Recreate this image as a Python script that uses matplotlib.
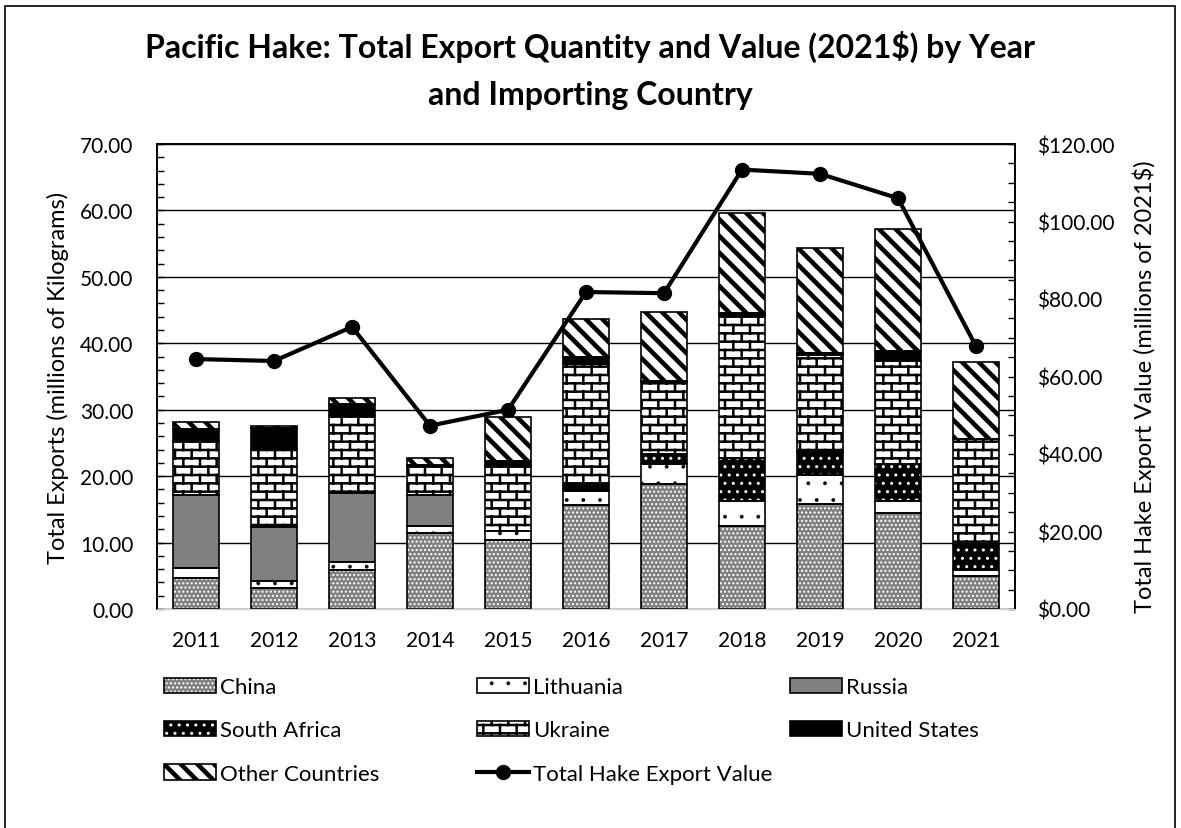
import numpy as np
import matplotlib
matplotlib.use('Agg')
import matplotlib.pyplot as plt
from matplotlib import hatch as mhatch
from matplotlib.path import Path
from matplotlib.patches import Patch, Rectangle
from matplotlib.lines import Line2D
from matplotlib.ticker import MultipleLocator, FormatStrFormatter

# Data (millions of kg, value in millions of 2021$)
years = ['2011', '2012', '2013', '2014', '2015', '2016', '2017', '2018', '2019', '2020', '2021']
china = [4.7, 3.2, 5.9, 11.5, 10.4, 15.6, 18.8, 12.5, 15.8, 14.5, 4.9]
lithuania = [1.4, 1.0, 1.2, 1.0, 1.3, 2.1, 3.0, 3.8, 4.4, 1.8, 0.9]
russia = [11.1, 8.1, 10.3, 4.6, 0.0, 0.0, 0.0, 0.0, 0.0, 0.0, 0.0]
south_africa = [0.0, 0.0, 0.0, 0.0, 0.0, 1.0, 1.5, 6.5, 3.4, 5.5, 4.0]
ukraine = [8.1, 11.8, 11.6, 4.4, 9.9, 18.2, 10.8, 21.4, 14.6, 15.6, 15.8]
united_states = [1.8, 3.1, 1.9, 0.2, 0.7, 1.0, 0.2, 0.3, 0.3, 1.5, 0.0]
other = [1.1, 0.4, 0.9, 1.1, 6.6, 5.8, 10.4, 15.1, 15.8, 18.3, 11.6]
total_value = [64.5, 64.0, 72.8, 47.3, 51.4, 81.8, 81.5, 113.4, 112.3, 106.0, 67.8]


# brick hatch ('B') for Ukraine, like the Excel pattern
class BrickHatch(mhatch.HatchPatternBase):
    def __init__(self, hatch, density):
        n = hatch.count('B') * density
        pts = []
        if n:
            per_row = max(n // 2, 1)
            for i in range(n):
                y0, y1 = i / n, (i + 1) / n
                pts += [(0.0, y0), (1.0, y0)]
                if i % 2 == 0:
                    xs = [k / per_row for k in range(per_row + 1)]
                else:
                    xs = [(k + 0.5) / per_row for k in range(per_row)]
                for xv in xs:
                    pts += [(xv, y0), (xv, y1)]
            pts += [(0.0, 1.0), (1.0, 1.0)]
        self.pts = pts
        self.num_vertices = len(pts)

    def set_vertices_and_codes(self, vertices, codes):
        vertices[:] = self.pts
        codes[0::2] = Path.MOVETO
        codes[1::2] = Path.LINETO


mhatch._hatch_types.append(BrickHatch)
_orig_validate = mhatch._validate_hatch_pattern
mhatch._validate_hatch_pattern = lambda h: _orig_validate(h.replace('B', '') if isinstance(h, str) else h)

plt.rcParams['font.family'] = ['Lato', 'DejaVu Sans']
plt.rcParams['font.size'] = 15

fig = plt.figure(figsize=(11.81, 8.29), dpi=100)
W, H = 1181, 829
ax = fig.add_axes([157 / W, 1 - 610 / H, (1015 - 157) / W, (610 - 145) / H])

# outer chart border
fig.patches.append(Rectangle((5 / W, -0.05), 1170 / W, 1.05 - 7 / H, transform=fig.transFigure,
                             fill=False, edgecolor='black', linewidth=1.2))

x = np.arange(len(years))
width = 0.58
grey = '#808080'

# name, values, face, hatch, hatch colour, hatch linewidth
series = [
    ('China', china, grey, '....', 'white', 1.0),
    ('Lithuania', lithuania, 'white', '.', 'black', 0.3),
    ('Russia', russia, grey, None, grey, 1.0),
    ('South Africa', south_africa, 'black', '..', 'white', 1.0),
    ('Ukraine', ukraine, 'white', 'BB', 'black', 1.8),
    ('United States', united_states, 'black', None, 'black', 1.0),
    ('Other Countries', other, 'white', '\\\\', 'black', 3.3),
]

handles = {}
hatch_lw = {}
bottom = np.zeros(len(years))
for name, vals, face, hatch, hcol, hlw in series:
    vals = np.array(vals)
    m = vals > 0
    plt.rcParams['hatch.linewidth'] = hlw
    bars = ax.bar(x[m], vals[m], width, bottom=bottom[m], color=face, hatch=hatch,
                  edgecolor=hcol, linewidth=0, zorder=2)
    for b in bars:
        if hasattr(b, 'set_hatch_linewidth'):
            b.set_hatch_linewidth(hlw)
    ax.bar(x[m], vals[m], width, bottom=bottom[m], fill=False, edgecolor='black',
           linewidth=1.2, zorder=3)
    p1 = Patch(facecolor=face, hatch=hatch, edgecolor=hcol, linewidth=0)
    handles[name] = (p1, Patch(fill=False, edgecolor='black', linewidth=1.2))
    hatch_lw[name] = hlw
    bottom += vals
plt.rcParams['hatch.linewidth'] = 1.0

ax.set_xlim(-0.5, len(years) - 0.5)
ax.set_ylim(0, 70)
ax.set_xticks(x)
ax.set_xticklabels(years)
ax.yaxis.set_major_locator(MultipleLocator(10))
ax.yaxis.set_minor_locator(MultipleLocator(2))
ax.yaxis.set_major_formatter(FormatStrFormatter('%.2f'))
ax.tick_params(axis='y', which='both', direction='in', length=5, width=1, pad=17)
ax.tick_params(axis='x', length=0, pad=15)
ax.grid(axis='y', color='black', linewidth=1)
ax.set_axisbelow(True)
ax.set_ylabel('Total Exports (millions of Kilograms)', fontsize=17)
ax.yaxis.set_label_coords(-0.1026, 0.5)

ax2 = ax.twinx()
ax2.plot(x, total_value, color='black', linewidth=3.0, marker='o', markersize=10, zorder=5)
ax2.set_ylim(0, 120)
ax2.yaxis.set_major_locator(MultipleLocator(20))
ax2.yaxis.set_minor_locator(MultipleLocator(5))
ax2.yaxis.set_major_formatter(FormatStrFormatter('\\$%.2f'))
ax2.tick_params(axis='y', which='both', direction='in', length=5, width=1, pad=16)
ax2.set_ylabel('Total Hake Export Value (millions of 2021\\$)', fontsize=17)
ax2.yaxis.set_label_coords(1.1375, 0.48)

for a in (ax, ax2):
    for s in ('left', 'right', 'top'):
        a.spines[s].set_color('black')
        a.spines[s].set_linewidth(1.2)
    a.spines['bottom'].set_color('#d0d0d0')

fig.text(0.4996, 1 - 70.5 / H, 'Pacific Hake: Total Export Quantity and Value (2021\\$) by Year\nand Importing Country',
         ha='center', va='center', fontsize=23, fontweight='bold', linespacing=1.75)

# legend laid out in three columns like Excel
line_handle = Line2D([], [], color='black', linewidth=3.0, marker='o', markersize=10)
columns = [
    (164, ['China', 'South Africa', 'Other Countries']),
    (477, ['Lithuania', 'Ukraine', 'Total Hake Export Value']),
    (790, ['Russia', 'United States']),
]
for cx, names in columns:
    hs = [line_handle if n == 'Total Hake Export Value' else handles[n] for n in names]
    leg = fig.legend(hs, names, loc='upper left', bbox_to_anchor=(cx / W, 1 - 678 / H),
                     frameon=False, borderpad=0, borderaxespad=0, handlelength=2.34,
                     handleheight=0.68, handletextpad=0.18, labelspacing=1.05, fontsize=16)
    for h, n in zip(leg.legend_handles, names):
        if n in hatch_lw and hasattr(h, 'set_hatch_linewidth'):
            h.set_hatch_linewidth(hatch_lw[n])

fig.savefig('out.png', dpi=100)
